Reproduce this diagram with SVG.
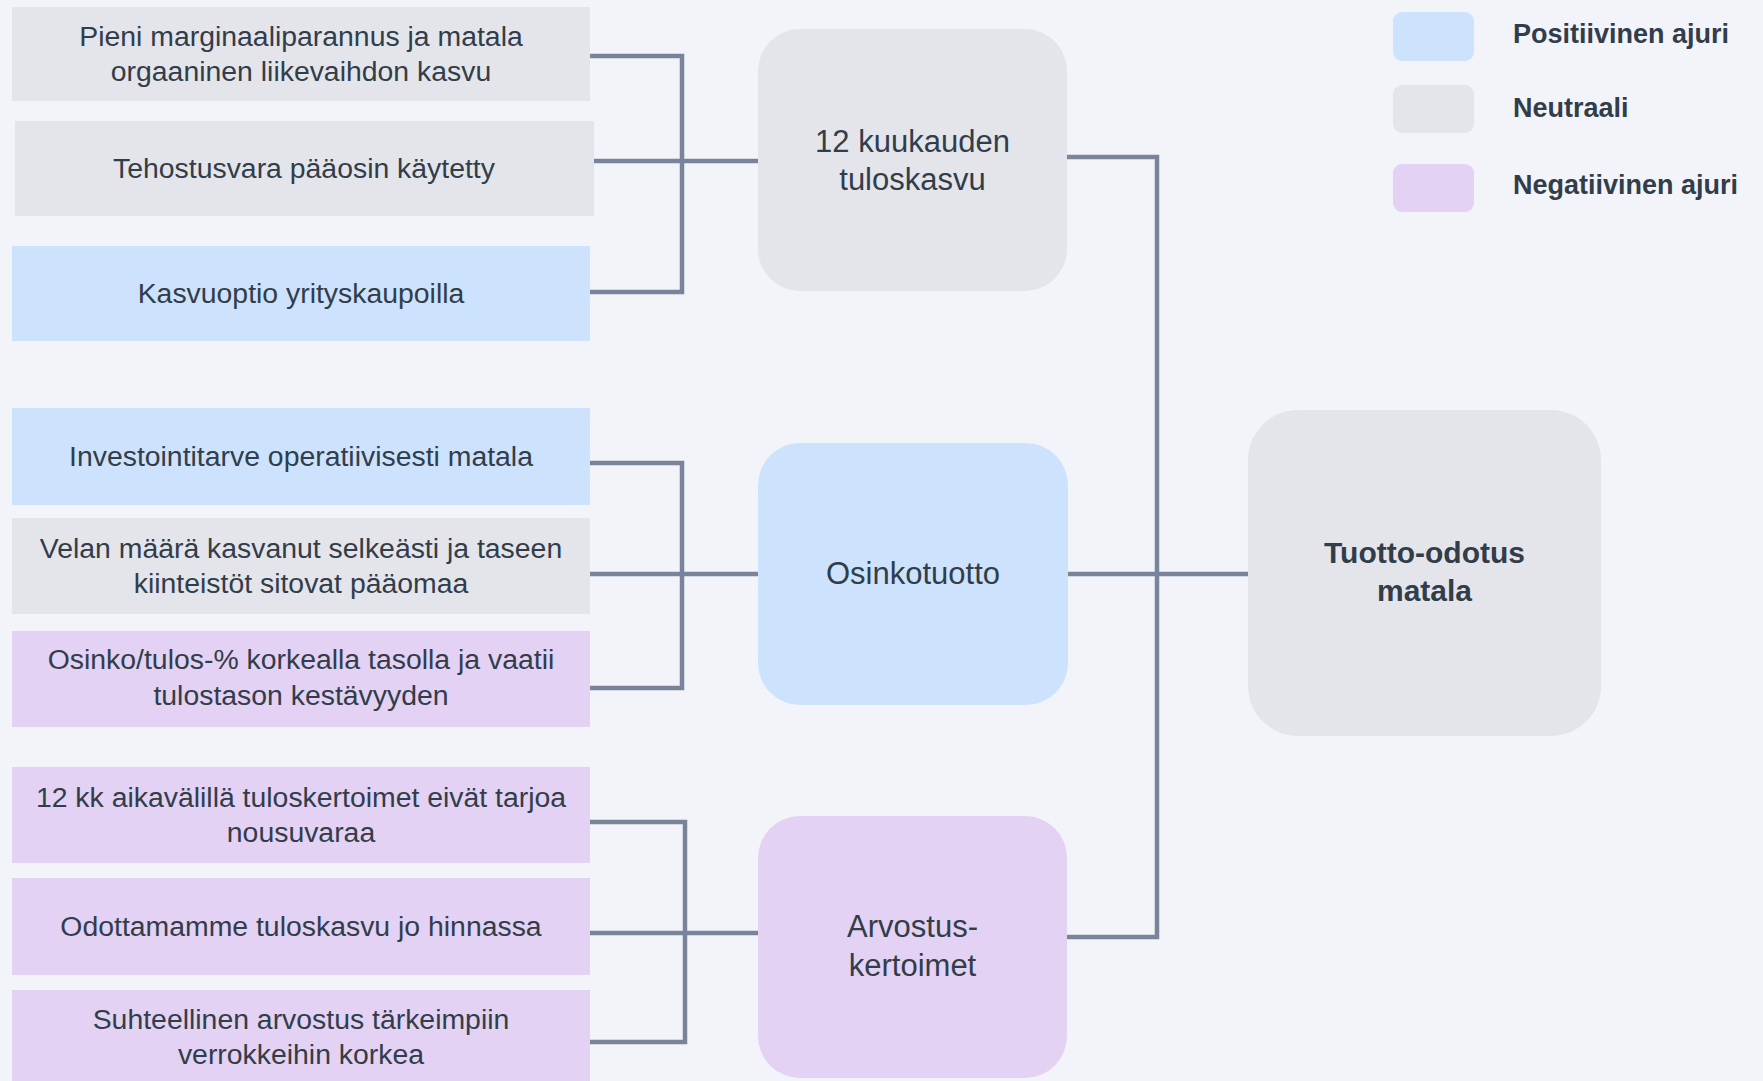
<svg xmlns="http://www.w3.org/2000/svg" width="1763" height="1081" viewBox="0 0 1763 1081">
<style>
.bg{fill:#f3f4f9}
.neu{fill:#e4e5ea}
.pos{fill:#cde3fd}
.neg{fill:#e3d2f3}
.t{font-family:"Liberation Sans",Arial,sans-serif;font-size:28.4px;fill:#323d4a;text-anchor:middle}
.n{font-family:"Liberation Sans",Arial,sans-serif;font-size:31px;fill:#323d4a;text-anchor:middle}
.b{font-family:"Liberation Sans",Arial,sans-serif;font-size:30px;font-weight:700;fill:#323d4a;text-anchor:middle}
.l{font-family:"Liberation Sans",Arial,sans-serif;font-size:27px;font-weight:700;fill:#323d4a}
.c{fill:none;stroke:#79849a;stroke-width:4.5;stroke-linejoin:miter;stroke-linecap:butt}
</style>
<rect class="bg" x="0" y="0" width="1763" height="1081"/>

<g id="connectors">
<path class="c" d="M590 56 H682 V292 H590"/>
<path class="c" d="M594 161 H758"/>
<path class="c" d="M590 463 H682 V688 H590"/>
<path class="c" d="M590 574 H758"/>
<path class="c" d="M590 822 H685 V1042 H590"/>
<path class="c" d="M590 933 H758"/>
<path class="c" d="M1067 157 H1157 V937 H1067"/>
<path class="c" d="M1068 574 H1248"/>
</g>

<g id="d1"><rect class="neu" x="12" y="7" width="578" height="94"/>
<text class="t" x="301" y="46">Pieni marginaaliparannus ja matala</text>
<text class="t" x="301" y="81">orgaaninen liikevaihdon kasvu</text></g>
<g id="d2"><rect class="neu" x="15" y="121" width="579" height="95"/>
<text class="t" x="304" y="178">Tehostusvara pääosin käytetty</text></g>
<g id="d3"><rect class="pos" x="12" y="246" width="578" height="95"/>
<text class="t" x="301" y="303">Kasvuoptio yrityskaupoilla</text></g>

<g id="d4"><rect class="pos" x="12" y="408" width="578" height="97"/>
<text class="t" x="301" y="466">Investointitarve operatiivisesti matala</text></g>
<g id="d5"><rect class="neu" x="12" y="518" width="578" height="96"/>
<text class="t" x="301" y="558">Velan määrä kasvanut selkeästi ja taseen</text>
<text class="t" x="301" y="593">kiinteistöt sitovat pääomaa</text></g>
<g id="d6"><rect class="neg" x="12" y="631" width="578" height="96"/>
<text class="t" x="301" y="669">Osinko/tulos-% korkealla tasolla ja vaatii</text>
<text class="t" x="301" y="705">tulostason kestävyyden</text></g>

<g id="d7"><rect class="neg" x="12" y="767" width="578" height="96"/>
<text class="t" x="301" y="807">12 kk aikavälillä tuloskertoimet eivät tarjoa</text>
<text class="t" x="301" y="842">nousuvaraa</text></g>
<g id="d8"><rect class="neg" x="12" y="878" width="578" height="97"/>
<text class="t" x="301" y="936">Odottamamme tuloskasvu jo hinnassa</text></g>
<g id="d9"><rect class="neg" x="12" y="990" width="578" height="96"/>
<text class="t" x="301" y="1029">Suhteellinen arvostus tärkeimpiin</text>
<text class="t" x="301" y="1064">verrokkeihin korkea</text></g>

<g id="n1"><rect class="neu" x="758" y="29" width="309" height="262" rx="42"/>
<text class="n" x="912.5" y="152">12 kuukauden</text>
<text class="n" x="912.5" y="190">tuloskasvu</text></g>
<g id="n2"><rect class="pos" x="758" y="443" width="310" height="262" rx="42"/>
<text class="n" x="913" y="584">Osinkotuotto</text></g>
<g id="n3"><rect class="neg" x="758" y="816" width="309" height="262" rx="42"/>
<text class="n" x="912.5" y="937">Arvostus-</text>
<text class="n" x="912.5" y="976">kertoimet</text></g>

<g id="result"><rect class="neu" x="1248" y="410" width="353" height="326" rx="50"/>
<text class="b" x="1424.5" y="563">Tuotto-odotus</text>
<text class="b" x="1424.5" y="601">matala</text></g>

<g id="legend">
<rect class="pos" x="1393" y="12" width="81" height="49" rx="9"/>
<text class="l" x="1513" y="43">Positiivinen ajuri</text>
<rect class="neu" x="1393" y="85" width="81" height="48" rx="9"/>
<text class="l" x="1513" y="117">Neutraali</text>
<rect class="neg" x="1393" y="164" width="81" height="48" rx="9"/>
<text class="l" x="1513" y="194">Negatiivinen ajuri</text>
</g>
</svg>
